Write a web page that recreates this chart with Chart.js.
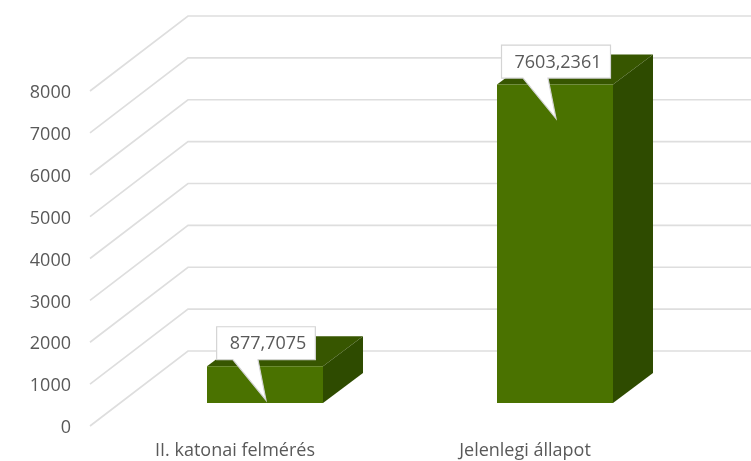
<!DOCTYPE html>
<html><head><meta charset="utf-8">
<style>html,body{margin:0;padding:0;background:#fff}#w{width:751px;height:461px;position:relative;overflow:hidden}canvas{filter:blur(0.5px)}</style>
<script src="https://cdn.jsdelivr.net/npm/chart.js@4"></script></head>
<body><div id="w"><canvas id="c" width="751" height="461"></canvas></div>
<script>
const categories = ["II. katonai felmérés", "Jelenlegi állapot"];
const seriesValues = [877.7075, 7603.2361];
const tickValues = [0, 1000, 2000, 3000, 4000, 5000, 6000, 7000, 8000];

const FONT = '"Open Sans", sans-serif';
const WALL = {dx: 98, dy: -75};
const BAR_SHIFT = {dx: 30, dy: -23};
const DEPTH = {dx: 40, dy: -30};

const threeD = {
  id: 'threeD',
  afterDatasetsUpdate(chart) {
    chart.getDatasetMeta(0).data.forEach(el => {
      if (el.$shifted) return;
      el.x += BAR_SHIFT.dx; el.y += BAR_SHIFT.dy; el.base += BAR_SHIFT.dy; el.$shifted = true;
    });
  },
  beforeDatasetsDraw(chart) {
    const {ctx, chartArea: a, scales: {y}} = chart;
    ctx.save();
    ctx.strokeStyle = '#dedede'; ctx.lineWidth = 1.7;
    tickValues.forEach(v => {
      const py = y.getPixelForValue(v);
      ctx.beginPath();
      ctx.moveTo(a.left, py);
      ctx.lineTo(a.left + WALL.dx, py + WALL.dy);
      ctx.lineTo(a.right + WALL.dx, py + WALL.dy);
      ctx.stroke();
    });
    chart.getDatasetMeta(0).data.forEach(el => {
      const l = el.x - el.width / 2, r = el.x + el.width / 2, t = el.y, b = el.base;
      ctx.fillStyle = '#375600';
      ctx.beginPath(); ctx.moveTo(l, t); ctx.lineTo(l + DEPTH.dx, t + DEPTH.dy);
      ctx.lineTo(r + DEPTH.dx, t + DEPTH.dy); ctx.lineTo(r, t); ctx.closePath(); ctx.fill();
      ctx.fillStyle = '#2e4b00';
      ctx.beginPath(); ctx.moveTo(r, t); ctx.lineTo(r + DEPTH.dx, t + DEPTH.dy);
      ctx.lineTo(r + DEPTH.dx, b + DEPTH.dy); ctx.lineTo(r, b); ctx.closePath(); ctx.fill();
    });
    ctx.restore();
  },
  afterDatasetsDraw(chart) {
    const {ctx} = chart;
    ctx.save();
    ctx.font = '18px ' + FONT;
    chart.getDatasetMeta(0).data.forEach((el, i) => {
      const text = String(seriesValues[i]).replace('.', ',');
      const w = ctx.measureText(text).width + 22;
      const cx = el.x + 1, top = el.y - 39.5, bot = el.y - 6.5;
      const l = cx - w / 2, r = cx + w / 2;
      const tipX = el.x + 1, tipY = el.y + 34;
      ctx.beginPath();
      ctx.moveTo(l, top); ctx.lineTo(r, top); ctx.lineTo(r, bot);
      ctx.lineTo(tipX - 8, bot); ctx.lineTo(tipX, tipY); ctx.lineTo(tipX - 33, bot);
      ctx.lineTo(l, bot); ctx.closePath();
      ctx.fillStyle = '#ffffff'; ctx.fill();
      ctx.strokeStyle = '#d4d4d4'; ctx.lineWidth = 1.2; ctx.stroke();
      ctx.fillStyle = '#595959'; ctx.textAlign = 'center'; ctx.textBaseline = 'middle';
      ctx.fillText(text, cx + 2, (top + bot) / 2 + 1);
    });
    ctx.restore();
  }
};

new Chart(document.getElementById('c'), {
  type: 'bar',
  data: {labels: categories, datasets: [{
    data: seriesValues, backgroundColor: '#4a7200', borderWidth: 0, clip: false,
    categoryPercentage: 0.4, barPercentage: 1
  }]},
  plugins: [threeD],
  options: {
    responsive: false, animation: false,
    layout: {padding: {top: 91, right: 81, bottom: 0, left: 0}},
    plugins: {legend: {display: false}, tooltip: {enabled: false}},
    scales: {
      x: {
        position: 'bottom',
        afterFit(s) { s.height = 35; },
        grid: {display: false}, border: {display: false},
        ticks: {color: '#595959', font: {family: FONT, size: 18}, padding: 6, maxRotation: 0}
      },
      y: {
        min: 0, max: 8000,
        afterBuildTicks(s) { s.ticks = tickValues.map(v => ({value: v})); },
        afterFit(s) { s.width = 90; },
        grid: {display: false}, border: {display: false},
        ticks: {color: '#595959', font: {family: FONT, size: 18}, padding: 11, labelOffset: 2, callback: v => String(v)}
      }
    }
  }
});
</script></body></html>
